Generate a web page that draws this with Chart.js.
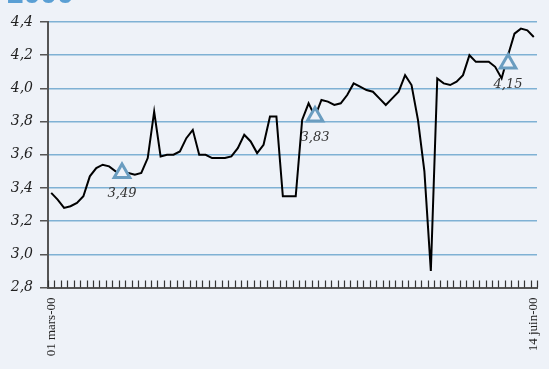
<!DOCTYPE html>
<html>
<head>
<meta charset="utf-8">
<script src="https://cdn.jsdelivr.net/npm/chart.js@4/dist/chart.umd.min.js"></script>
<style>
  html, body { margin: 0; padding: 0; background: #eef2f8; overflow: hidden; }
  #wrap { position: relative; width: 549px; height: 369px; }
</style>
</head>
<body>
<div id="wrap"><canvas id="c" width="549" height="369"></canvas></div>
<script>
// Trading days, 1 March - 14 June 2000
const dates = [
  '01 mars-00','02 mars-00','03 mars-00','06 mars-00','07 mars-00','08 mars-00','09 mars-00','10 mars-00',
  '13 mars-00','14 mars-00','15 mars-00','16 mars-00','17 mars-00','20 mars-00','21 mars-00','22 mars-00',
  '23 mars-00','24 mars-00','27 mars-00','28 mars-00','29 mars-00','30 mars-00','31 mars-00',
  '03 avr.-00','04 avr.-00','05 avr.-00','06 avr.-00','07 avr.-00','10 avr.-00','11 avr.-00','12 avr.-00',
  '13 avr.-00','14 avr.-00','17 avr.-00','18 avr.-00','19 avr.-00','20 avr.-00','21 avr.-00','24 avr.-00',
  '25 avr.-00','26 avr.-00','27 avr.-00','28 avr.-00',
  '01 mai-00','02 mai-00','03 mai-00','04 mai-00','05 mai-00','08 mai-00','09 mai-00','10 mai-00',
  '11 mai-00','12 mai-00','15 mai-00','16 mai-00','17 mai-00','18 mai-00','19 mai-00','22 mai-00',
  '23 mai-00','24 mai-00','25 mai-00','26 mai-00','29 mai-00','30 mai-00','31 mai-00',
  '01 juin-00','02 juin-00','05 juin-00','06 juin-00','07 juin-00','08 juin-00','09 juin-00',
  '12 juin-00','13 juin-00','14 juin-00'
];

// Daily rate (%)
const rates = [
  3.37, 3.33, 3.28, 3.29, 3.31, 3.35, 3.47, 3.52, 3.54, 3.53,
  3.50, 3.49, 3.49, 3.48, 3.49, 3.58, 3.86, 3.59, 3.60, 3.60,
  3.62, 3.70, 3.75, 3.60, 3.60, 3.58, 3.58, 3.58, 3.59, 3.64,
  3.72, 3.68, 3.61, 3.66, 3.83, 3.83, 3.35, 3.35, 3.35, 3.81,
  3.91, 3.83, 3.93, 3.92, 3.90, 3.91, 3.96, 4.03, 4.01, 3.99,
  3.98, 3.94, 3.90, 3.94, 3.98, 4.08, 4.02, 3.81, 3.50, 2.90,
  4.06, 4.03, 4.02, 4.04, 4.08, 4.20, 4.16, 4.16, 4.16, 4.13,
  4.06, 4.20, 4.33, 4.36, 4.35, 4.31
];

// Highlighted days and their rates
const markerIndex = [11, 41, 71];
const markerValues = [3.49, 3.83, 4.15];

// Value axis ticks
const yTickValues = [2.8, 3.0, 3.2, 3.4, 3.6, 3.8, 4.0, 4.2, 4.4];

const chartTitle = '2000';
const BG = '#eef2f8';
const GRID = '#7fb1d4';
const AXIS = '#555555';
const MARK = '#6a9dc0';

const fmt = v => Number(v).toFixed(1).replace('.', ',');
const fmt2 = v => Number(v).toFixed(2).replace('.', ',');

const decorations = {
  id: 'decorations',
  afterDraw(chart) {
    const ctx = chart.ctx;
    const xs = chart.scales.x;
    const area = chart.chartArea;
    ctx.save();
    // inward tick marks on the date axis, at category boundaries
    ctx.strokeStyle = '#333333';
    ctx.lineWidth = 1.2;
    ctx.beginPath();
    for (let i = 0; i <= dates.length; i++) {
      const x = Math.round(xs.getPixelForValue(i - 0.5)) + 0.5;
      ctx.moveTo(x, area.bottom);
      ctx.lineTo(x, area.bottom - 7);
    }
    ctx.stroke();

    // value labels under the highlighted points
    const meta = chart.getDatasetMeta(1);
    ctx.fillStyle = '#333333';
    ctx.font = 'italic 13px "DejaVu Serif"';
    ctx.textAlign = 'center';
    ctx.textBaseline = 'middle';
    meta.data.forEach((pt, k) => {
      ctx.fillText(fmt2(markerValues[k]), pt.x, pt.y + 21);
    });

    // heading, mostly cut by the top edge
    ctx.fillStyle = '#5a9fd4';
    ctx.font = 'bold 30px "Liberation Sans"';
    ctx.textAlign = 'left';
    ctx.textBaseline = 'alphabetic';
    ctx.fillText(chartTitle, 7, 3);
    ctx.restore();
  }
};

new Chart(document.getElementById('c'), {
  type: 'line',
  data: {
    labels: dates,
    datasets: [
      {
        data: rates,
        borderColor: '#000000',
        borderWidth: 2,
        pointRadius: 0,
        tension: 0,
        order: 2
      },
      {
        data: markerIndex.map((idx, k) => ({ x: dates[idx], y: markerValues[k] })),
        showLine: false,
        pointStyle: 'triangle',
        pointRadius: 9,
        pointBorderWidth: 3,
        pointBorderColor: MARK,
        pointBackgroundColor: BG,
        order: 1
      }
    ]
  },
  options: {
    responsive: false,
    animation: false,
    devicePixelRatio: 1,
    layout: { padding: { top: 22, right: 9, left: 0, bottom: 0 } },
    plugins: { legend: { display: false }, tooltip: { enabled: false }, title: { display: false } },
    scales: {
      x: {
        type: 'category',
        offset: true,
        grid: { display: true, drawOnChartArea: false, drawTicks: false, offset: true },
        border: { display: true, color: AXIS, width: 2 },
        afterFit(s) { s.height = 81.5; s.paddingLeft = 0; s.paddingRight = 0; },
        ticks: {
          autoSkip: false,
          maxRotation: 90,
          minRotation: 90,
          padding: 10,
          color: '#222222',
          font: { family: '"Liberation Serif"', size: 13 },
          callback(val, idx) {
            return (idx === 0 || idx === dates.length - 1) ? dates[idx] : '';
          }
        }
      },
      y: {
        min: 2.8,
        max: 4.4,
        afterBuildTicks(s) { s.ticks = yTickValues.map(v => ({ value: v })); },
        afterFit(s) { s.width = 48; s.paddingTop = 0; s.paddingBottom = 0; },
        grid: {
          color: ctx => (ctx.tick && Math.abs(ctx.tick.value - 2.8) < 1e-6) ? AXIS : GRID,
          lineWidth: 1.5,
          tickColor: AXIS,
          tickLength: 8
        },
        border: { display: true, color: AXIS, width: 2 },
        ticks: {
          padding: 7,
          color: '#222222',
          font: { family: '"DejaVu Serif"', size: 14, style: 'italic' },
          callback: v => fmt(v)
        }
      }
    }
  },
  plugins: [decorations]
});
</script>
</body>
</html>
